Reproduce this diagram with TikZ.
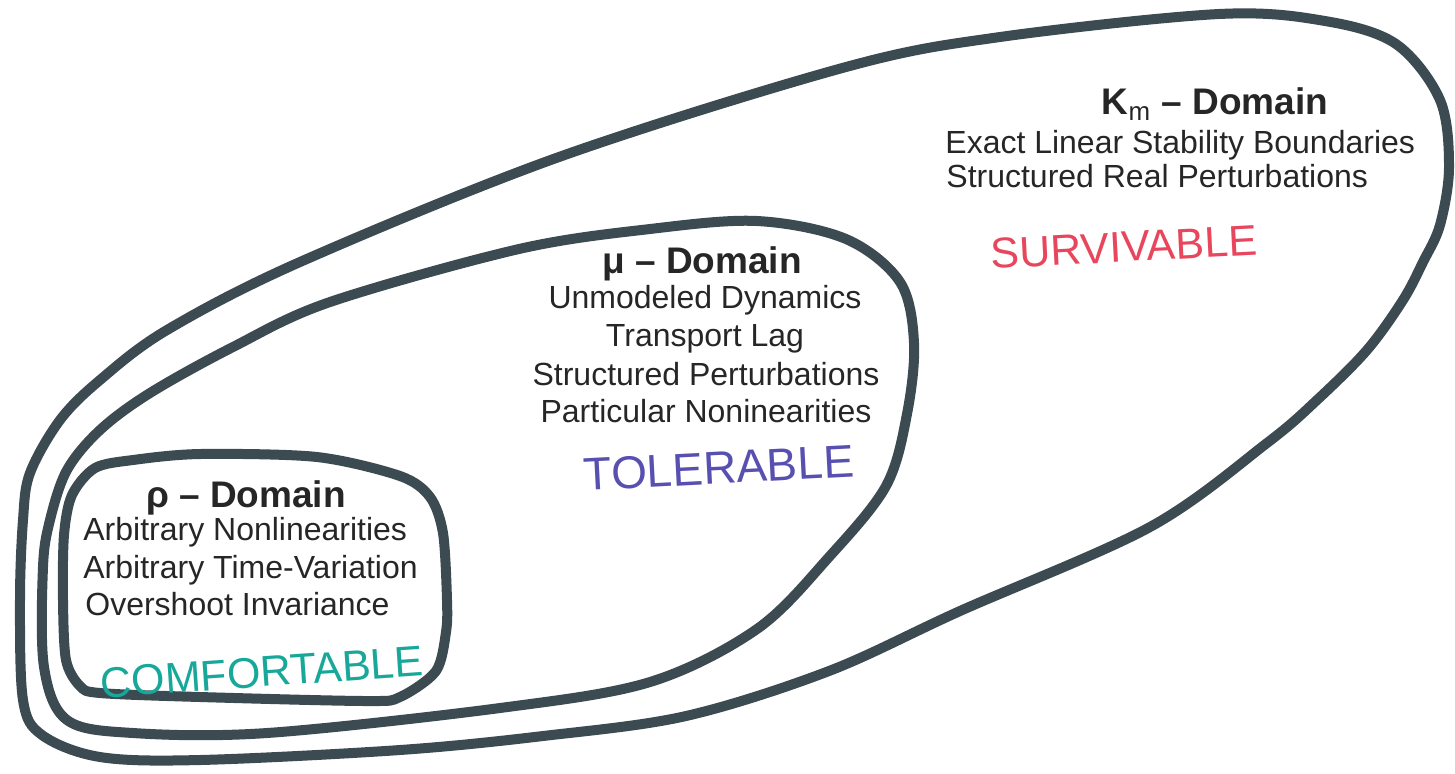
\documentclass[tikz,border=0pt]{standalone}
\usepackage{fontspec}
\setmainfont{Liberation Sans}
\usepackage{tikz}

\definecolor{ink}{RGB}{60,74,82}
\definecolor{survcol}{RGB}{232,70,92}
\definecolor{tolcol}{RGB}{88,80,176}
\definecolor{comfcol}{RGB}{24,168,154}

\tikzset{
  rim/.style={draw=ink, line width=5pt, line join=round},
  head/.style={font=\bfseries\fontsize{18.5}{22}\selectfont, text=black!85, inner sep=0pt},
  item/.style={font=\fontsize{16}{19}\selectfont, text=black!85, inner sep=0pt},
  scrawl/.style={font=\fontsize{21.5}{24}\selectfont, inner sep=0pt}
}

\begin{document}
\begin{tikzpicture}[x=0.5pt, y=-0.5pt]
\useasboundingbox (0,0) rectangle (1455,773);

% K_m region (outer)
\path[rim] plot[smooth cycle, tension=0.55] coordinates {
  (1000,37) (1219,14) (1325,21) (1396,44) (1440,100) (1449,167) (1440,225)
  (1423,262) (1403,300) (1367,350) (1317,400) (1267,443) (1150,527)
  (960,611) (829,671) (686,716) (543,736) (400,750) (200,760) (100,757)
  (42,735) (23,700) (20,600) (23,520) (30,473) (60,420) (100,380)
  (167,330) (300,262) (559,157) (846,67)};

% mu region (middle)
\path[rim] plot[smooth cycle, tension=0.55] coordinates {
  (519,249) (650,229) (757,221) (846,239) (900,282) (914,343) (907,414)
  (886,486) (829,557) (757,629) (650,682) (500,708) (267,733) (133,733)
  (67,720) (44,667) (43,567) (50,520) (67,470) (100,430) (150,393)
  (233,347) (330,302)};

% rho region (inner)
\path[rim] plot[smooth cycle, tension=0.5] coordinates {
  (133,460) (200,454) (317,457) (400,476) (430,497) (443,533) (447,600)
  (446,632) (436,671) (400,697) (367,701) (200,697) (100,693) (80,686)
  (66,660) (63,600) (64,535) (72,495) (95,468)};

% K_m texts
\node[head] (kmhead) at (1215,104) {K\textsubscript{\mdseries m} – Domain};
\node[item, anchor=base west] (km1) at (945,153) {Exact Linear Stability Boundaries};
\node[item, anchor=base west] (km2) at (946,187) {Structured Real Perturbations};
\node[scrawl, text=survcol, rotate=3] (surv) at (1124,247) {SURVIVABLE};

% mu texts
\node[head, anchor=base] (muhead) at (702,273) {μ – Domain};
\node[item, anchor=base] (mu1) at (705,308) {Unmodeled Dynamics};
\node[item, anchor=base] (mu2) at (705,346) {Transport Lag};
\node[item, anchor=base] (mu3) at (706,385) {Structured Perturbations};
\node[item, anchor=base] (mu4) at (706,422) {Particular Noninearities};
\node[scrawl, text=tolcol, rotate=3, font=\fontsize{23}{26}\selectfont] (tol) at (719,468) {TOLERABLE};

% rho texts
\node[head, anchor=base] (rhohead) at (246,507) {ρ – Domain};
\node[item, anchor=base west] (rho1) at (83,540) {Arbitrary Nonlinearities};
\node[item, anchor=base west] (rho2) at (83,578) {Arbitrary Time-Variation};
\node[item, anchor=base west] (rho3) at (85,615) {Overshoot Invariance};
\node[scrawl, text=comfcol, rotate=4] (comf) at (262,672) {COMFORTABLE};
\end{tikzpicture}
\end{document}
